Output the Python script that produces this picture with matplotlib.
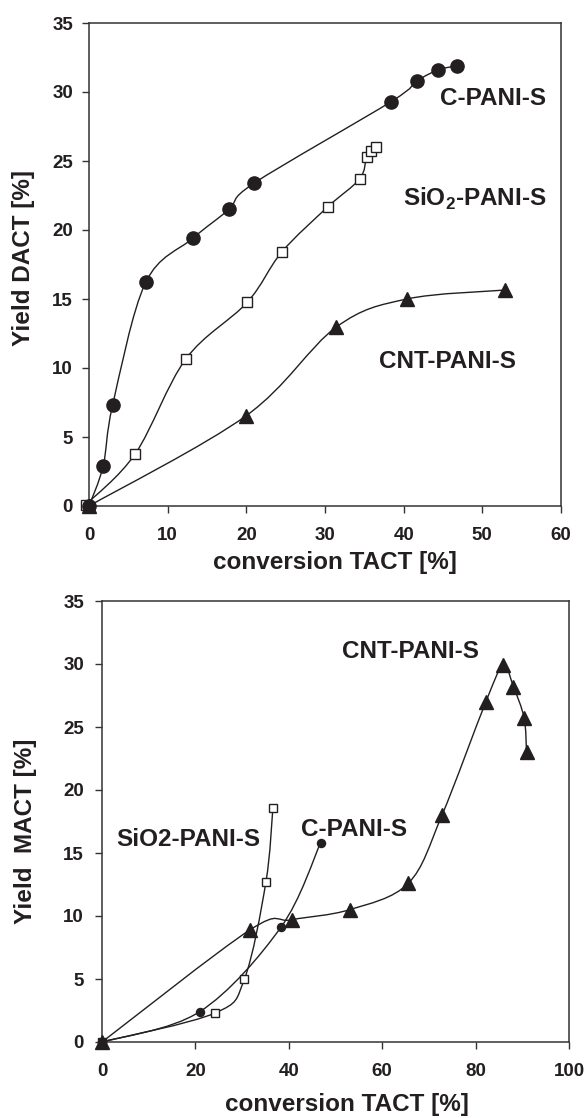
import numpy as np
import matplotlib
matplotlib.use("Agg")
import matplotlib.pyplot as plt
from matplotlib.path import Path
from matplotlib.patches import PathPatch

plt.rcParams['font.family'] = ['Liberation Sans', 'DejaVu Sans']
plt.rcParams['font.weight'] = 'bold'
plt.rcParams['mathtext.fontset'] = 'custom'
plt.rcParams['mathtext.rm'] = 'Liberation Sans:bold'
plt.rcParams['mathtext.bf'] = 'Liberation Sans:bold'

INK = '#231f20'

# --- DACT yield vs TACT conversion ---
dact_c_x = [0, 1.8, 3.0, 7.2, 13.2, 17.8, 21.0, 38.4, 41.7, 44.4, 46.8]
dact_c_y = [0, 2.9, 7.3, 16.2, 19.4, 21.5, 23.4, 29.3, 30.8, 31.6, 31.9]
dact_si_x = [-0.4, 5.9, 12.3, 20.1, 24.5, 30.4, 34.4, 35.3, 35.8, 36.5]
dact_si_y = [0.1, 3.8, 10.65, 14.75, 18.4, 21.7, 23.7, 25.3, 25.7, 26.0]
dact_cnt_x = [0, 20.0, 31.4, 40.4, 52.9]
dact_cnt_y = [0, 6.55, 12.95, 15.0, 15.65]

# --- MACT yield vs TACT conversion ---
mact_c_x = [0, 20.9, 38.3, 46.8]
mact_c_y = [0, 2.4, 9.1, 15.8]
mact_si_x = [0, 24.2, 30.5, 35.1, 36.6]
mact_si_y = [0, 2.3, 5.0, 12.7, 18.6]
mact_cnt_x = [0, 31.7, 40.6, 53.0, 65.6, 72.8, 82.2, 85.9, 88.1, 90.4, 90.9]
mact_cnt_y = [0, 8.9, 9.7, 10.5, 12.6, 18.0, 27.0, 29.9, 28.2, 25.7, 23.0]


def smooth_line(ax, x, y, lw=1.0):
    # Catmull-Rom style bezier through the points, like a spreadsheet "smoothed line"
    pts = np.column_stack([x, y]).astype(float)
    n = len(pts)
    verts = [pts[0]]
    codes = [Path.MOVETO]
    for i in range(n - 1):
        p0 = pts[i - 1] if i > 0 else pts[i]
        p1, p2 = pts[i], pts[i + 1]
        p3 = pts[i + 2] if i + 2 < n else pts[i + 1]
        verts += [p1 + (p2 - p0) / 6, p2 - (p3 - p1) / 6, p2]
        codes += [Path.CURVE4] * 3
    ax.add_patch(PathPatch(Path(verts, codes), fill=False, lw=lw, ec=INK, zorder=2))


def style_axes(ax):
    for s in ax.spines.values():
        s.set_linewidth(1.1)
        s.set_color('#333333')
    ax.tick_params(direction='out', length=5, width=1.0, color='#333333',
                   labelsize=13.5, labelcolor=INK)
    ax.tick_params(axis='x', pad=9.8)
    for lab in ax.get_xticklabels() + ax.get_yticklabels():
        lab.set_fontweight('bold')


fig = plt.figure(figsize=(5.88, 11.18), dpi=100)

# top panel
ax1 = fig.add_axes([89 / 588, 1 - 506 / 1118, 472 / 588, 483 / 1118])
smooth_line(ax1, dact_c_x, dact_c_y)
smooth_line(ax1, dact_si_x, dact_si_y)
smooth_line(ax1, dact_cnt_x, dact_cnt_y)
ax1.plot(dact_si_x, dact_si_y, ls='none', marker='s', ms=7.8, mfc='white',
         mec=INK, mew=1.0, clip_on=False, zorder=3)
ax1.plot(dact_c_x, dact_c_y, ls='none', marker='o', ms=9.5, mfc=INK,
         mec=INK, clip_on=False, zorder=4)
ax1.plot(dact_cnt_x, dact_cnt_y, ls='none', marker='^', ms=10, mfc=INK,
         mec=INK, clip_on=False, zorder=5)
ax1.set_xlim(0, 60)
ax1.set_ylim(0, 35)
ax1.set_xticks(range(0, 61, 10))
ax1.set_yticks(range(0, 36, 5))
style_axes(ax1)
ax1.tick_params(axis='y', pad=6.5)
ax1.set_xlabel('conversion TACT [%]', fontsize=17.5, fontweight='bold', color=INK,
               va='center')
ax1.xaxis.set_label_coords(0.521, -0.116)
ax1.set_ylabel('Yield DACT [%]', fontsize=17.5, fontweight='bold', color=INK,
               va='center')
ax1.yaxis.set_label_coords(-(89 - 24) / 472, 0.513)
ax1.text(44.6, 29.5, 'C-PANI-S', fontsize=17.5, fontweight='bold', color=INK,
         ha='left', va='center')
ax1.text(39.9, 22.25, r'SiO$_\mathbf{2}$-PANI-S', fontsize=17.5, fontweight='bold',
         color=INK, ha='left', va='center')
ax1.text(36.9, 10.5, 'CNT-PANI-S', fontsize=17.5, fontweight='bold', color=INK,
         ha='left', va='center')

# bottom panel
ax2 = fig.add_axes([102 / 588, 1 - 1042 / 1118, 467 / 588, 441 / 1118])
smooth_line(ax2, mact_c_x, mact_c_y)
smooth_line(ax2, mact_si_x, mact_si_y)
smooth_line(ax2, mact_cnt_x, mact_cnt_y)
ax2.plot(mact_si_x, mact_si_y, ls='none', marker='s', ms=5.2, mfc='white',
         mec=INK, mew=1.0, clip_on=False, zorder=3)
ax2.plot(mact_c_x, mact_c_y, ls='none', marker='o', ms=5.8, mfc=INK,
         mec=INK, clip_on=False, zorder=4)
ax2.plot(mact_cnt_x, mact_cnt_y, ls='none', marker='^', ms=9.5, mfc=INK,
         mec=INK, clip_on=False, zorder=5)
ax2.set_xlim(0, 100)
ax2.set_ylim(0, 35)
ax2.set_xticks(range(0, 101, 20))
ax2.set_yticks(range(0, 36, 5))
style_axes(ax2)
ax2.tick_params(axis='y', pad=8)
ax2.set_xlabel('conversion TACT [%]', fontsize=17.5, fontweight='bold', color=INK,
               va='center')
ax2.xaxis.set_label_coords(0.524, -(1105 - 1042) / 441)
ax2.set_ylabel('Yield  MACT [%]', fontsize=17.5, fontweight='bold', color=INK,
               va='center')
ax2.yaxis.set_label_coords(-(102 - 26) / 467, 0.477)
ax2.text(51.4, 31.0, 'CNT-PANI-S', fontsize=17.5, fontweight='bold', color=INK,
         ha='left', va='center')
ax2.text(42.6, 16.9, 'C-PANI-S', fontsize=17.5, fontweight='bold', color=INK,
         ha='left', va='center')
ax2.text(3.0, 16.1, 'SiO2-PANI-S', fontsize=17.5, fontweight='bold', color=INK,
         ha='left', va='center')

fig.savefig('out.png', dpi=100)
